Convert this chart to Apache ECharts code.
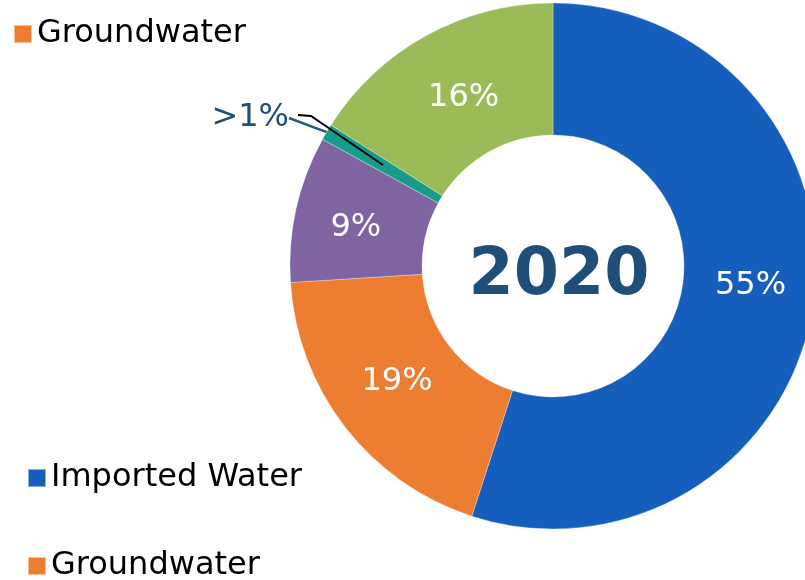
<!DOCTYPE html>
<html>
<head>
<meta charset="utf-8">
<script src="https://cdn.jsdelivr.net/npm/echarts@6/dist/echarts.min.js"></script>
<style>
html,body{margin:0;padding:0;background:#fff;}
#chart{width:805px;height:580px;}
</style>
</head>
<body>
<div id="chart"></div>
<script>
// ---- data ----
var categories = ['Imported Water', 'Groundwater', 'Recycled Water', 'Other', 'Local Surface Water'];
var values = [55, 19, 9, 1, 16];
var labels = ['55%', '19%', '9%', '>1%', '16%'];
var colors = ['#155EBB', '#ED7D31', '#8064A2', '#179C8C', '#9BBB59'];
var outsideLabel = [false, false, false, true, false];
var centerText = '2020';

var FONT = '"DejaVu Sans", Verdana, sans-serif';

var seriesData = categories.map(function (name, i) {
  var item = {
    name: name,
    value: values[i],
    itemStyle: { color: colors[i] }
  };
  if (outsideLabel[i]) {
    item.label = {
      show: true, position: 'outside', formatter: labels[i],
      color: '#1F4E79', fontSize: 32, fontFamily: FONT, distanceToLabelLine: 2
    };
    item.labelLine = { show: true, length: 30, length2: 0, lineStyle: { color: '#1F5C8A', width: 2.5 } };
  } else {
    item.label = {
      show: true, position: 'inside', formatter: labels[i],
      color: '#fff', fontSize: 32, fontFamily: FONT
    };
    item.labelLine = { show: false };
  }
  return item;
});

// layout nudges for labels (style, not data)
var labelNudge = [[0, -12], [2, -7], [-2, 5], [0, 0], [7, 7]];

function legendFor(names, left, top) {
  return {
    data: names,
    orient: 'vertical',
    left: left, top: top,
    padding: 0,
    itemGap: 0,
    itemWidth: 18, itemHeight: 18,
    icon: 'rect',
    selectedMode: false,
    textStyle: { fontSize: 32, fontFamily: FONT, color: '#000', lineHeight: 36 }
  };
}

var chart = echarts.init(document.getElementById('chart'));
chart.setOption({
  animation: false,
  backgroundColor: '#fff',
  legend: [
    legendFor(['Groundwater'], 13, 16),
    legendFor(['Imported Water'], 27, 460),
    legendFor(['Groundwater'], 27, 548)
  ],
  graphic: [
    {
      type: 'text', x: 559, y: 277, silent: true,
      style: { text: centerText, fill: '#1F4E79', fontSize: 65, fontWeight: 'bold', fontFamily: FONT,
               textAlign: 'center', textVerticalAlign: 'middle' }
    },
    {
      type: 'polyline', silent: true, z: 10,
      shape: { points: [[298, 115], [311, 116], [383, 165]] },
      style: { stroke: '#000', lineWidth: 2, fill: null }
    }
  ],
  series: [{
    type: 'pie',
    center: [553, 266],
    radius: [131, 263],
    startAngle: 90,
    clockwise: true,
    avoidLabelOverlap: false,
    itemStyle: { borderColor: 'rgba(255,255,255,0.5)', borderWidth: 0.6 },
    labelLine: { lineStyle: { width: 2.5, color: '#1F5C8A' } },
    emphasis: { disabled: true },
    labelLayout: function (params) {
      var i = params.dataIndex;
      if (outsideLabel[i]) {
        return { x: 289, y: 118, align: 'right', verticalAlign: 'middle' };
      }
      return { dx: labelNudge[i][0], dy: labelNudge[i][1] };
    },
    data: seriesData
  }]
});
</script>
</body>
</html>
